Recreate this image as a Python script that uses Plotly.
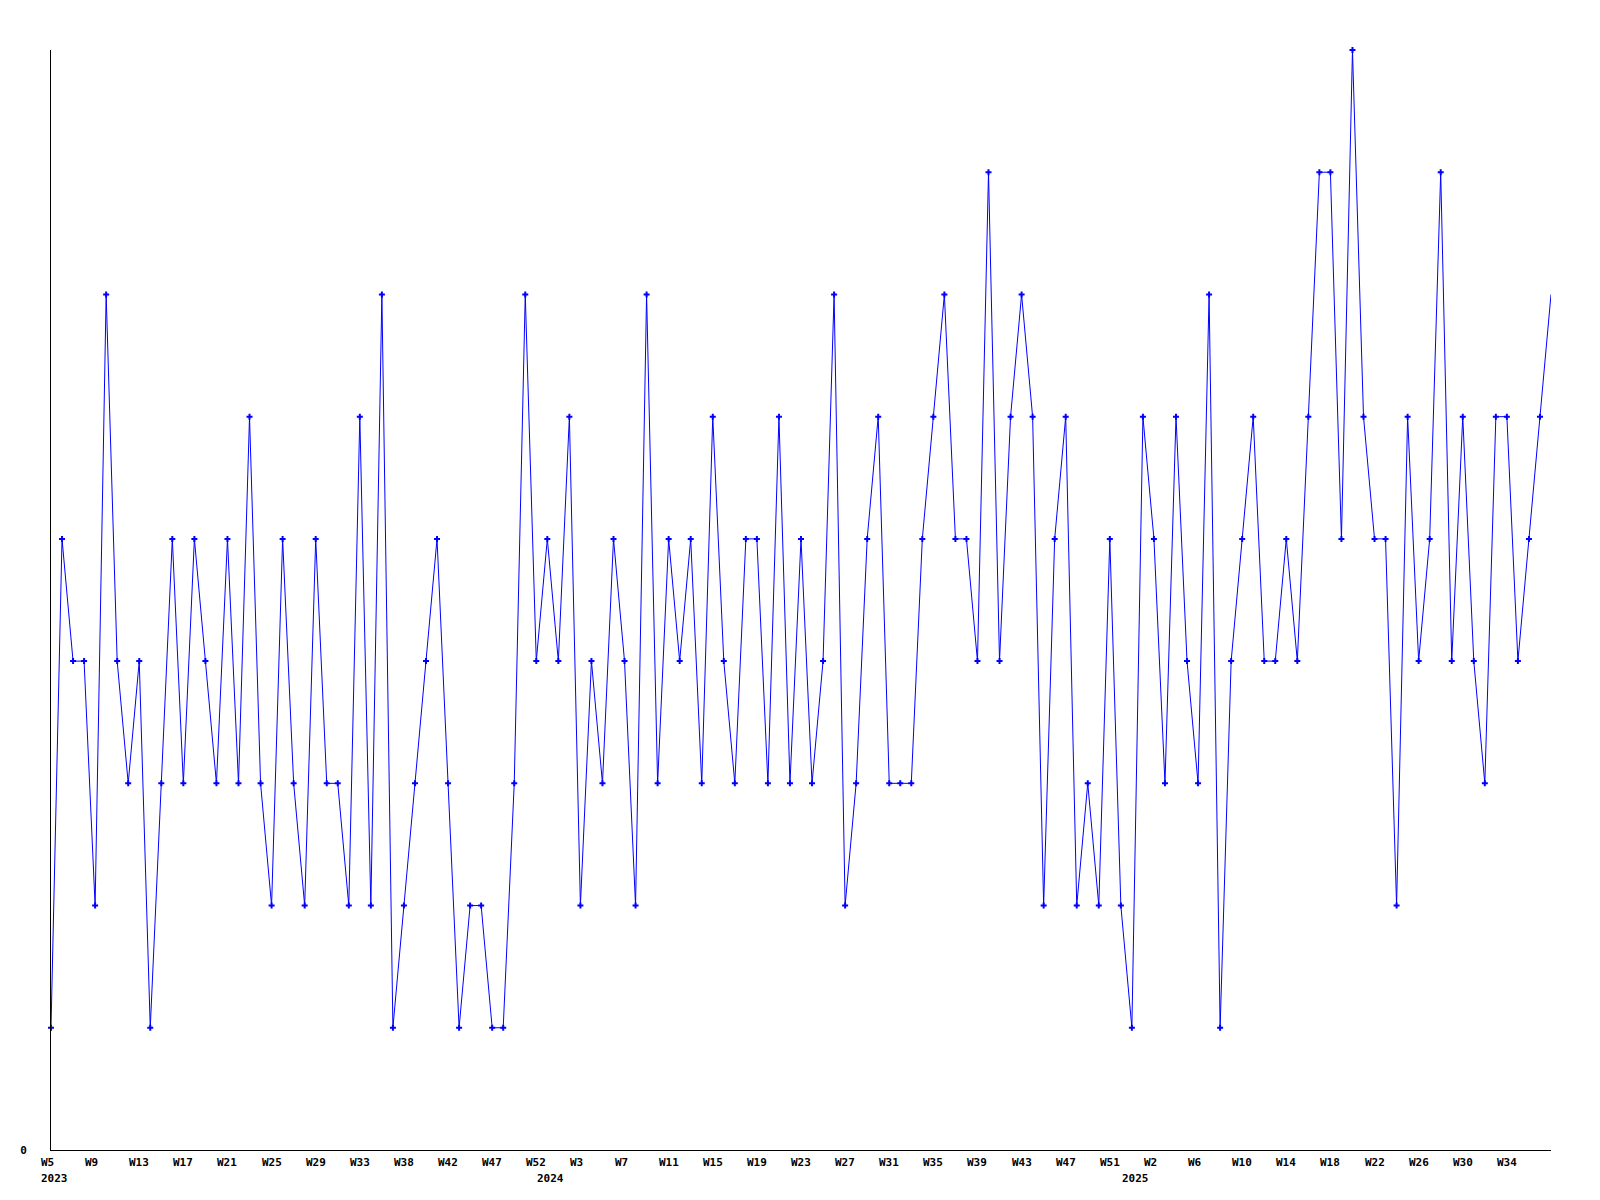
import plotly.graph_objects as go

# Weekly values (index 0 = 2023 W5)
values = [
    1, 5, 4, 4, 2, 7, 4, 3, 4, 1,
    3, 5, 3, 5, 4, 3, 5, 3, 6, 3,
    2, 5, 3, 2, 5, 3, 3, 2, 6, 2,
    7, 1, 2, 3, 4, 5, 3, 1, 2, 2,
    1, 1, 3, 7, 4, 5, 4, 6, 2, 4,
    3, 5, 4, 2, 7, 3, 5, 4, 5, 3,
    6, 4, 3, 5, 5, 3, 6, 3, 5, 3,
    4, 7, 2, 3, 5, 6, 3, 3, 3, 5,
    6, 7, 5, 5, 4, 8, 4, 6, 7, 6,
    2, 5, 6, 2, 3, 2, 5, 2, 1, 6,
    5, 3, 6, 4, 3, 7, 1, 4, 5, 6,
    4, 4, 5, 4, 6, 8, 8, 5, 9, 6,
    5, 5, 2, 6, 4, 5, 8, 4, 6, 4,
    3, 6, 6, 4, 5, 6, 7,
]

week_labels = [
    "W5", "W9", "W13", "W17", "W21", "W25", "W29", "W33", "W38", "W42", "W47", "W52",
    "W3", "W7", "W11", "W15", "W19", "W23", "W27", "W31", "W35", "W39", "W43", "W47", "W51",
    "W2", "W6", "W10", "W14", "W18", "W22", "W26", "W30", "W34",
]
week_positions = list(range(0, 4 * len(week_labels), 4))

year_labels = ["2023", "2024", "2025"]
year_positions = [0, 45, 98]

x = list(range(len(values)))

FONT = dict(family="DejaVu Sans Mono", size=11, color="black", weight="bold")

fig = go.Figure()
fig.add_trace(go.Scatter(
    x=x, y=values, mode="lines+markers",
    line=dict(color="#0000ff", width=1),
    marker=dict(symbol="cross", size=5, color="#0000ff",
                opacity=[1] * (len(values) - 1) + [0]),
    cliponaxis=False,
    showlegend=False,
))

annotations = []
for pos, lab in zip(week_positions, week_labels):
    annotations.append(dict(x=pos, y=0, xref="x", yref="y", text=lab,
                            showarrow=False, xanchor="left", yanchor="middle",
                            xshift=-12, yshift=-12, font=FONT))
for pos, lab in zip(year_positions, year_labels):
    annotations.append(dict(x=pos, y=0, xref="x", yref="y", text=lab,
                            showarrow=False, xanchor="left", yanchor="middle",
                            xshift=-12, yshift=-28, font=FONT))

# page body has an 8px margin, so the figure is 1584x1184 and offset accordingly
fig.update_layout(
    width=1584, height=1184,
    margin=dict(l=40, r=41, t=42, b=42, pad=0),
    paper_bgcolor="white", plot_bgcolor="white",
    annotations=annotations,
    xaxis=dict(range=[0, len(values) - 1], showgrid=False, zeroline=False,
               showline=True, linecolor="black", linewidth=1,
               showticklabels=False, ticks=""),
    yaxis=dict(range=[0, 9], showgrid=False, zeroline=False,
               showline=True, linecolor="black", linewidth=1,
               tickvals=[0], ticktext=["0"], ticks="",
               ticklabelstandoff=21, tickfont=FONT),
)

fig.write_html("out.html")
